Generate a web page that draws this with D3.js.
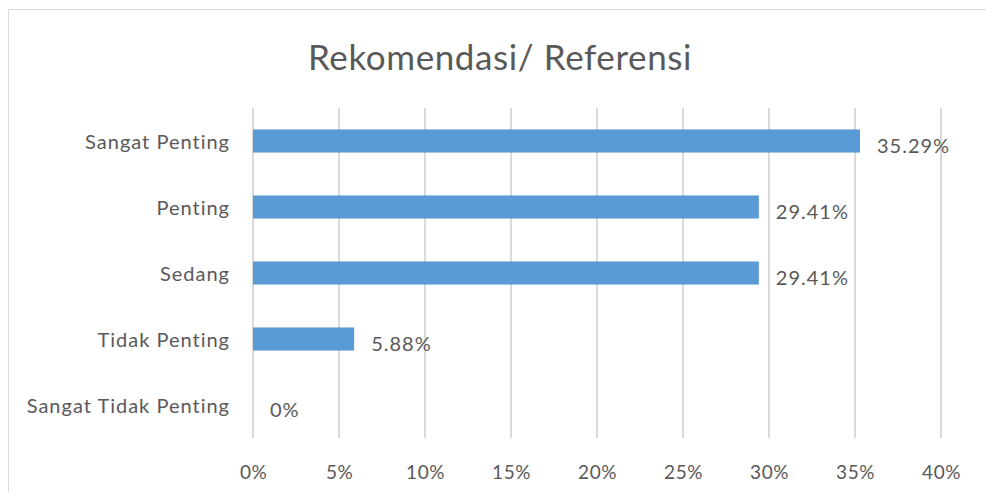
<!DOCTYPE html>
<html>
<head>
<meta charset="utf-8">
<script src="https://cdn.jsdelivr.net/npm/d3@7"></script>
<style>
  body { margin: 0; background: #fff; }
  text { font-family: Lato, "Open Sans", sans-serif; fill: #595959; }
</style>
</head>
<body>
<svg width="986" height="492"></svg>
<script>
var categories = ["Sangat Penting", "Penting", "Sedang", "Tidak Penting", "Sangat Tidak Penting"];
var values = [35.29, 29.41, 29.41, 5.88, 0];
var labels = ["35.29%", "29.41%", "29.41%", "5.88%", "0%"];
var ticks = [0, 5, 10, 15, 20, 25, 30, 35, 40];

var svg = d3.select("svg"),
    width = +svg.attr("width"),
    height = +svg.attr("height");

var margin = {top: 108, right: 45, bottom: 54, left: 253};

// chart frame
svg.append("rect")
    .attr("x", 8.5).attr("y", 9.5)
    .attr("width", width + 20).attr("height", height + 20)
    .attr("fill", "none")
    .attr("stroke", "#d9d9d9");

var x = d3.scaleLinear()
    .domain([0, 40])
    .range([margin.left, width - margin.right]);

var y = d3.scaleBand()
    .domain(categories)
    .range([margin.top, height - margin.bottom])
    .paddingInner(0.65)
    .paddingOuter(0.325);

svg.append("text")
    .attr("x", 500)
    .attr("y", 70)
    .attr("text-anchor", "middle")
    .style("font-size", "35px")
    .style("letter-spacing", "0.6px")
    .text("Rekomendasi/ Referensi");

// gridlines
svg.append("g")
    .selectAll("line")
    .data(ticks)
    .enter().append("line")
    .attr("x1", function(d) { return x(d); })
    .attr("x2", function(d) { return x(d); })
    .attr("y1", margin.top)
    .attr("y2", height - margin.bottom)
    .attr("stroke", "#d9d9d9")
    .attr("stroke-width", 2);

// x axis labels
var xAxis = d3.axisBottom(x)
    .tickValues(ticks)
    .tickSize(0)
    .tickPadding(0)
    .tickFormat(function(d) { return d + "%"; });

svg.append("g")
    .attr("transform", "translate(0," + (height - margin.bottom + 27) + ")")
    .call(xAxis)
    .call(function(g) { g.select(".domain").remove(); })
    .selectAll("text")
    .style("font-size", "19px")
    .style("letter-spacing", "0.5px")
    .style("fill", "#595959");

// y axis labels
var yAxis = d3.axisLeft(y).tickSize(0).tickPadding(23);
svg.append("g")
    .attr("transform", "translate(" + margin.left + ",0)")
    .call(yAxis)
    .call(function(g) { g.select(".domain").remove(); })
    .selectAll("text")
    .attr("dy", "0.42em")
    .style("font-size", "20px")
    .style("letter-spacing", "1px")
    .style("fill", "#595959");

svg.append("g")
    .selectAll("rect")
    .data(values)
    .enter().append("rect")
    .attr("x", x(0))
    .attr("y", function(d, i) { return y(categories[i]); })
    .attr("width", function(d) { return x(d) - x(0); })
    .attr("height", y.bandwidth())
    .attr("fill", "#5b9bd5");

svg.append("g")
    .selectAll("text")
    .data(values)
    .enter().append("text")
    .attr("x", function(d) { return x(d) + 17; })
    .attr("y", function(d, i) { return y(categories[i]) + y.bandwidth() / 2 + 12; })
    .style("font-size", "20px")
    .style("letter-spacing", "1px")
    .text(function(d, i) { return labels[i]; });
</script>
</body>
</html>
